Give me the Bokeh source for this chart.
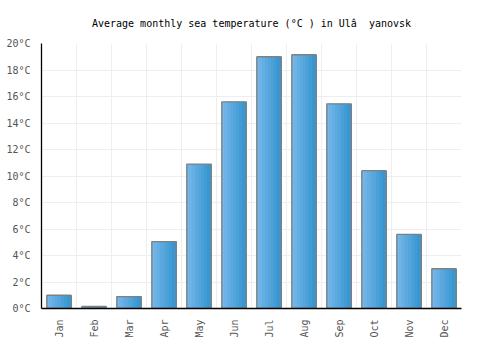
import math
from bokeh.plotting import figure
from bokeh.models import FixedTicker, Range1d
from bokeh.embed import file_html
from bokeh.resources import INLINE

months = ["Jan", "Feb", "Mar", "Apr", "May", "Jun", "Jul", "Aug", "Sep", "Oct", "Nov", "Dec"]
temps = [1.0, 0.15, 0.9, 5.05, 10.9, 15.6, 19.0, 19.15, 15.45, 10.4, 5.6, 3.0]
y_ticks = [0, 2, 4, 6, 8, 10, 12, 14, 16, 18, 20]
title = "Average monthly sea temperature (°C ) in Ulâ\u00a0 yanovsk"

FONT = "DejaVu Sans Mono"

p = figure(width=500, height=350, output_backend="svg", toolbar_location=None,
           x_range=Range1d(0, 12), y_range=Range1d(0, 20),
           min_border_left=41, min_border_right=39, min_border_top=43, min_border_bottom=42)
p.outline_line_color = None
p.title.text = title
p.title.align = "center"
p.title.text_font = FONT
p.title.text_font_size = "10px"
p.title.text_font_style = "normal"
p.title.text_color = "#000000"
p.title.standoff = 30

xc = [i + 0.5 for i in range(len(months))]
bw = 0.69
n = 8
c0 = (118, 184, 235)
c1 = (56, 150, 208)
sw = bw / n
for k in range(n):
    t = k / (n - 1)
    col = "#%02x%02x%02x" % tuple(int(round(a + (b - a) * t)) for a, b in zip(c0, c1))
    xs = [x - bw / 2 + sw * (k + 0.5) for x in xc]
    p.vbar(x=xs, top=temps, bottom=0, width=sw * 1.6, fill_color=col, line_color=None)
p.vbar(x=xc, top=temps, bottom=0, width=bw, fill_color=None, line_color="#808080", line_width=1.3)

p.xaxis.ticker = FixedTicker(ticks=xc)
p.xaxis.major_label_overrides = {x: m for x, m in zip(xc, months)}
p.xaxis.major_label_orientation = math.pi / 2
p.yaxis.ticker = FixedTicker(ticks=y_ticks)
p.yaxis.major_label_overrides = {v: "%d°C" % v for v in y_ticks}
for ax in (p.xaxis, p.yaxis):
    ax.major_tick_line_color = None
    ax.minor_tick_line_color = None
    ax.axis_line_color = "#000000"
    ax.axis_line_width = 1.3
    ax.major_label_text_font = FONT
    ax.major_label_text_font_size = "10px"
    ax.major_label_text_color = "#555555"
    ax.major_label_standoff = 5

p.xgrid.ticker = FixedTicker(ticks=list(range(13)))
p.xgrid.grid_line_color = "#eeeeee"
p.ygrid.grid_line_color = "#eeeeee"

open("out.html", "w").write(file_html(p, INLINE))
